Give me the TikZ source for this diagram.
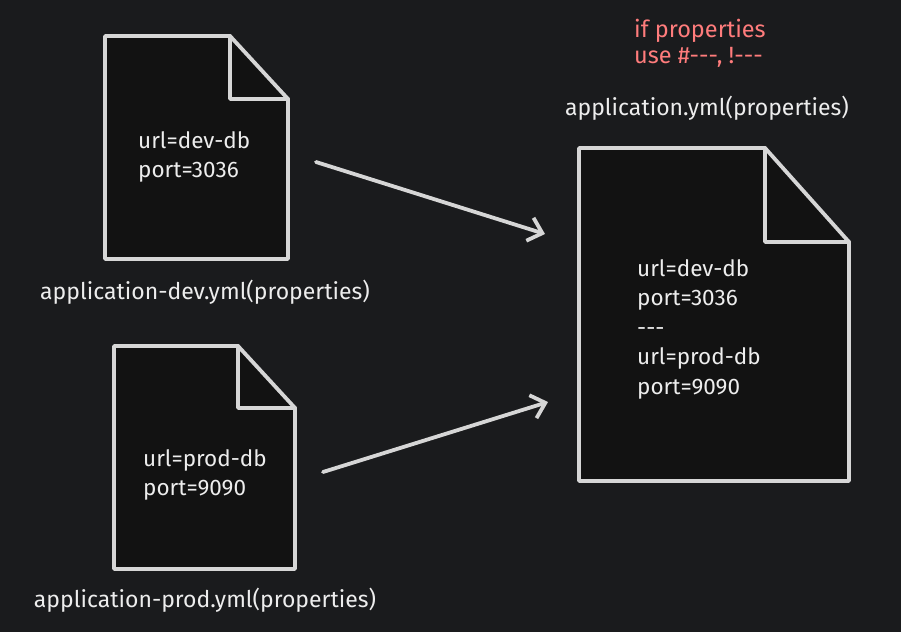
\documentclass[tikz,border=0pt]{standalone}
\usepackage{fontspec}
\setmainfont{Fira Sans}
\usetikzlibrary{arrows.meta}
\definecolor{bg}{HTML}{1A1B1D}
\definecolor{docfill}{HTML}{121212}
\definecolor{docline}{HTML}{D6D6D6}
\definecolor{txtcol}{HTML}{EDEDED}
\definecolor{redtxt}{HTML}{FF7C7C}
\newcommand{\docpaper}[6]{%
  \filldraw[docstroke] (#1,#2) -- (#5,#2) -- (#3,#6) -- (#3,#4) -- (#1,#4) -- cycle;
  \draw[foldstroke] (#5,#2) -- (#5,#6) -- (#3,#6);
}
\begin{document}
\begin{tikzpicture}[x=1pt,y=-1pt,
  docstroke/.style={draw=docline,fill=docfill,line width=3.8pt,line join=round,line cap=round},
  foldstroke/.style={draw=docline,line width=3.8pt,line join=round,line cap=round},
  txt/.style={text=txtcol,font={\fontsize{22.5}{29.5}\selectfont},align=left,inner sep=0pt},
  lbl/.style={text=txtcol,font={\fontsize{23}{26}\selectfont},inner sep=0pt},
  note/.style={text=redtxt,font={\fontsize{23.5}{26}\selectfont},align=left,inner sep=0pt},
  arr/.style={draw=docline,line width=3.8pt,line cap=round,-{Straight Barb[length=13pt,width=24pt,line width=3.8pt]}}]
\fill[bg] (0,0) rectangle (901,632);
\useasboundingbox (0,0) rectangle (901,632);
% documents
\docpaper{105}{36}{288}{259}{230}{99}
\docpaper{114}{346}{295}{569}{238}{408}
\docpaper{579}{148}{849}{481}{765}{242}
% document contents
\node[txt,anchor=west] (devtxt) at (138,157) {url=dev-db\\port=3036};
\node[txt,anchor=west] (prodtxt) at (143,475) {url=prod-db\\port=9090};
\node[txt,anchor=west] (mergetxt) at (637,329) {url=dev-db\\port=3036\\-{}-{}-\\url=prod-db\\port=9090};
% labels
\node[lbl] (devlbl) at (205,292) {application-dev.yml(properties)};
\node[lbl] (prodlbl) at (205,600) {application-prod.yml(properties)};
\node[lbl] (mainlbl) at (707,108) {application.yml(properties)};
\node[note,anchor=west] (note) at (634,43) {if properties\\use \#-{}-{}-, !-{}-{}-};
% arrows
\coordinate (a1s) at (316,162);
\coordinate (a1e) at (545,234);
\coordinate (a2s) at (323,472);
\coordinate (a2e) at (548,402);
\draw[arr] (a1s) -- (a1e);
\draw[arr] (a2s) -- (a2e);
\end{tikzpicture}
\end{document}
